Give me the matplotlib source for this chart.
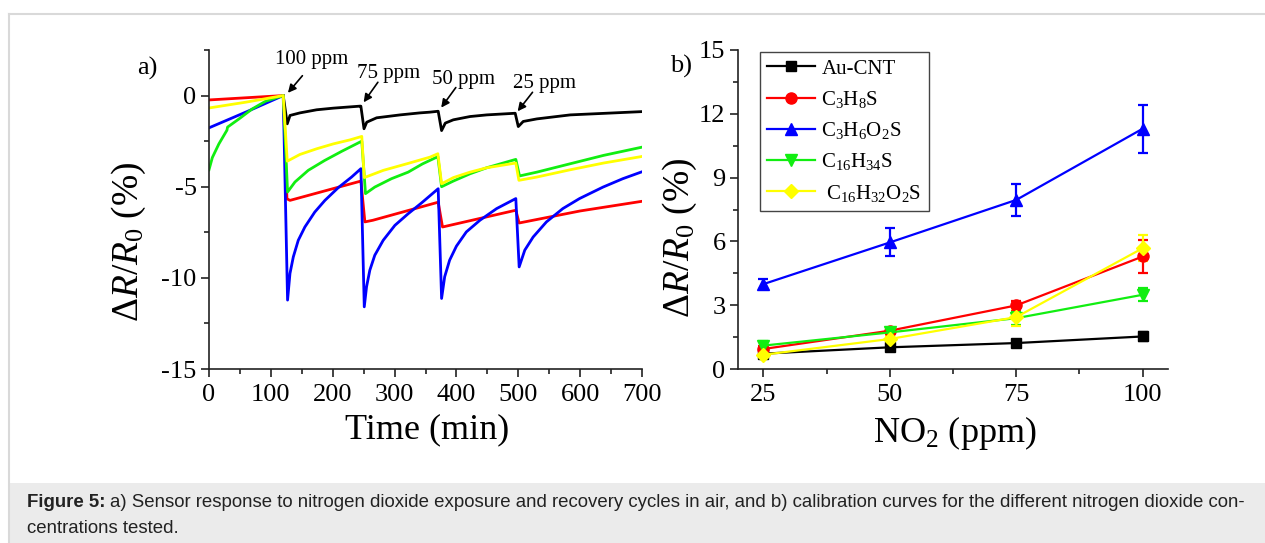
import numpy as np
import matplotlib
matplotlib.use("Agg")
import matplotlib.pyplot as plt
from matplotlib.patches import Rectangle
from matplotlib.lines import Line2D
from matplotlib.ticker import MultipleLocator

plt.rcParams['font.family'] = ['Liberation Serif', 'DejaVu Serif']
plt.rcParams['mathtext.fontset'] = 'custom'
plt.rcParams['mathtext.rm'] = 'Liberation Serif'
plt.rcParams['mathtext.it'] = 'Liberation Serif:italic'
plt.rcParams['axes.unicode_minus'] = False

# ---------- panel a: respuesta temporal ----------
t_black = [120, 126.5, 131, 147, 174, 201, 244, 245.5, 250.6, 255, 271, 309, 341, 357,
           370.5, 376, 382, 395, 422, 449, 495, 500, 508, 530, 584, 700]
r_black = [0, -1.55, -1.09, -0.95, -0.78, -0.69, -0.58, -0.58, -1.82, -1.46, -1.22, -1.06, -0.95, -0.91,
           -0.86, -1.92, -1.51, -1.33, -1.15, -1.06, -0.97, -1.70, -1.42, -1.28, -1.06, -0.88]

t_red = [0, 120, 126, 130.9, 245.6, 252, 265, 370.5, 377.5, 496, 501.4, 600, 700]
r_red = [-0.24, 0, -5.66, -5.75, -4.69, -6.93, -6.84, -5.85, -7.21, -6.29, -6.99, -6.33, -5.8]

t_blue = [0, 60, 120, 127, 130.9, 136.3, 144.3, 155, 171, 187.4, 209, 230.5, 245.6, 251, 254.7, 260,
          268, 281.6, 300.5, 322, 343.6, 370.5, 376, 381, 389, 400, 416, 438, 465, 496, 501.4, 510.5,
          524, 545.5, 572, 599, 637, 669, 700]
r_blue = [-1.77, -0.9, 0, -11.22, -9.76, -8.85, -7.94, -7.21, -6.39, -5.75, -5.05, -4.47, -4.01, -11.59,
          -10.49, -9.58, -8.76, -7.94, -7.12, -6.48, -5.89, -5.11, -11.13, -9.94, -9.03, -8.26, -7.48,
          -6.84, -6.2, -5.65, -9.4, -8.48, -7.76, -6.93, -6.2, -5.65, -5.02, -4.56, -4.18]

t_green = [0, 5.4, 16, 29, 30, 48.5, 70, 91.5, 120, 127, 139, 160.5, 187, 215, 247, 253, 268, 295, 322,
           345, 370, 376, 395, 422, 449, 496, 502, 530, 584, 638, 700]
r_green = [-4.07, -3.4, -2.65, -1.9, -1.73, -1.28, -0.73, -0.31, 0, -5.29, -4.74, -4.1, -3.56, -3.05,
           -2.5, -5.38, -5.02, -4.56, -4.2, -3.75, -3.35, -5.0, -4.69, -4.29, -3.96, -3.5, -4.41, -4.2,
           -3.74, -3.28, -2.83]

t_yellow = [0, 60, 120, 126.5, 147, 174, 201, 228, 247, 251, 282, 320, 357, 370, 376, 395, 422, 449,
            496, 501, 530, 584, 638, 700]
r_yellow = [-0.68, -0.36, 0, -3.6, -3.23, -2.92, -2.65, -2.43, -2.24, -4.5, -4.1, -3.74, -3.38, -3.19,
            -4.84, -4.5, -4.2, -3.96, -3.7, -4.65, -4.47, -4.07, -3.7, -3.34]

# ---------- panel b: calibracion ----------
conc = [25, 50, 75, 100]
nombres = ['Au-CNT', r'C$_3$H$_8$S', r'C$_3$H$_6$O$_2$S', r'C$_{16}$H$_{34}$S', r' C$_{16}$H$_{32}$O$_2$S']
resp = [
    [0.72, 1.02, 1.22, 1.53],
    [0.94, 1.80, 2.99, 5.29],
    [3.99, 5.95, 7.95, 11.30],
    [1.10, 1.72, 2.39, 3.49],
    [0.67, 1.41, 2.44, 5.68],
]
err = [
    [0.10, 0.10, 0.12, 0.22],
    [0.12, 0.12, 0.20, 0.78],
    [0.25, 0.66, 0.77, 1.12],
    [0.20, 0.15, 0.30, 0.30],
    [0.12, 0.15, 0.40, 0.62],
]
colores = ['black', '#ff0000', '#0000ff', '#11ee11', '#ffff00']
marcas = ['s', 'o', '^', 'v', 'D']
tam = [7, 8, 8.5, 8.5, 7]

fig = plt.figure(figsize=(12.65, 5.43), dpi=100)
W, H = 1265, 543

# marco y pie de figura
fig.patches.append(Rectangle((9 / W, 0), 1 - 9 / W, 60 / H, transform=fig.transFigure,
                             facecolor='#ebebeb', edgecolor='none', zorder=0))
fig.lines.append(Line2D([9 / W, 9 / W], [0, 1 - 13.5 / H], transform=fig.transFigure,
                        color='#d9d9d9', lw=1.5))
fig.lines.append(Line2D([9 / W, 1], [1 - 13.5 / H, 1 - 13.5 / H], transform=fig.transFigure,
                        color='#d9d9d9', lw=1.5))

ax1 = fig.add_axes([209 / W, 1 - 369 / H, 433 / W, 319 / H])
ax2 = fig.add_axes([738 / W, 1 - 369 / H, 430 / W, 319 / H])

for ax in (ax1, ax2):
    ax.spines['top'].set_visible(False)
    ax.spines['right'].set_visible(False)
    for s in ('left', 'bottom'):
        ax.spines[s].set_linewidth(1.2)
        ax.spines[s].set_color('#222222')
    ax.tick_params(which='major', direction='out', length=6, width=1.2, labelsize=19, pad=3, colors='#222222')
    ax.tick_params(which='minor', direction='out', length=3.5, width=1.2, colors='#222222')
    ax.tick_params(axis='x', which='major', pad=5)
    ax.tick_params(labelcolor='black')

# panel a
ax1.plot(t_black, r_black, color='black', lw=2)
ax1.plot(t_red, r_red, color='#ff0000', lw=2)
ax1.plot(t_blue, r_blue, color='#0000ff', lw=2)
ax1.plot(t_green, r_green, color='#11ee11', lw=2)
ax1.plot(t_yellow, r_yellow, color='#ffff00', lw=2)
ax1.set_xlim(0, 700)
ax1.set_ylim(-15, 2.5)
ax1.xaxis.set_major_locator(MultipleLocator(100))
ax1.xaxis.set_minor_locator(MultipleLocator(50))
ax1.yaxis.set_major_locator(MultipleLocator(5))
ax1.yaxis.set_minor_locator(MultipleLocator(2.5))
ax1.set_xlabel('Time (min)', fontsize=26)
ax1.set_ylabel(r'$\Delta R/R_0$ (%)', fontsize=27)
ax1.xaxis.set_label_coords(0.503, -0.14)
ax1.yaxis.set_label_coords(-0.14, 0.40)

# flechas de concentracion
etiquetas = [('100 ppm', 166, 1.73, (151, 1.09), (127.6, 0.15)),
             ('75 ppm', 291, 0.95, (273, 0.73), (250, -0.37)),
             ('50 ppm', 412, 0.64, (399, 0.44), (375.4, -0.66)),
             ('25 ppm', 542, 0.42, (523, 0.18), (499, -0.86))]
for txt, tx, ty, cola, punta in etiquetas:
    ax1.text(tx, ty, txt, ha='center', va='baseline', fontsize=15)
    ax1.annotate('', xy=punta, xytext=cola,
                 arrowprops=dict(arrowstyle='-|>', color='black', lw=1.2, mutation_scale=12,
                                 shrinkA=0, shrinkB=0))

# panel b
for i in range(len(resp)):
    ax2.errorbar(conc, resp[i], yerr=err[i], color=colores[i], marker=marcas[i], ms=tam[i],
                 lw=1.6, elinewidth=1.6, capsize=3.5, capthick=1.6, label=nombres[i])
ax2.set_xlim(20, 105)
ax2.set_ylim(0, 15)
ax2.xaxis.set_major_locator(MultipleLocator(25))
ax2.xaxis.set_minor_locator(MultipleLocator(12.5))
ax2.yaxis.set_major_locator(MultipleLocator(3))
ax2.yaxis.set_minor_locator(MultipleLocator(1.5))
ax2.set_xlabel(r'NO$_2$ (ppm)', fontsize=26)
ax2.set_ylabel(r'$\Delta R/R_0$ (%)', fontsize=27)
ax2.xaxis.set_label_coords(0.505, -0.14)
ax2.yaxis.set_label_coords(-0.09, 0.41)

handles, labels = ax2.get_legend_handles_labels()
leg = ax2.legend([h[0] for h in handles], labels, loc='upper left', bbox_to_anchor=(0.051, 0.994),
                 borderaxespad=0, fontsize=15, handlelength=2.3, handletextpad=0.3,
                 labelspacing=0.49, borderpad=0.35, fancybox=False, framealpha=1)
leg.get_frame().set_edgecolor('#444444')
leg.get_frame().set_linewidth(1.0)

fig.text(137 / W, 1 - 75 / H, 'a)', fontsize=19, va='baseline')
fig.text(670 / W, 1 - 73 / H, 'b)', fontsize=19, va='baseline')

# pie de figura
renderer = fig.canvas.get_renderer()
negrita = fig.text(27 / W, 1 - 507 / H, 'Figure 5:', fontsize=13.4, fontweight='bold',
                   family='Liberation Sans', va='baseline', color='#222222')
bb = negrita.get_window_extent(renderer)
fig.text(bb.x1 / W + 4 / W, 1 - 507 / H,
         'a) Sensor response to nitrogen dioxide exposure and recovery cycles in air, and b) calibration '
         'curves for the different nitrogen dioxide con-',
         fontsize=13.4, family='Liberation Sans', va='baseline', color='#222222')
fig.text(27 / W, 1 - 533 / H, 'centrations tested.', fontsize=13.4, family='Liberation Sans',
         va='baseline', color='#222222')

fig.savefig('out.png', dpi=100)
